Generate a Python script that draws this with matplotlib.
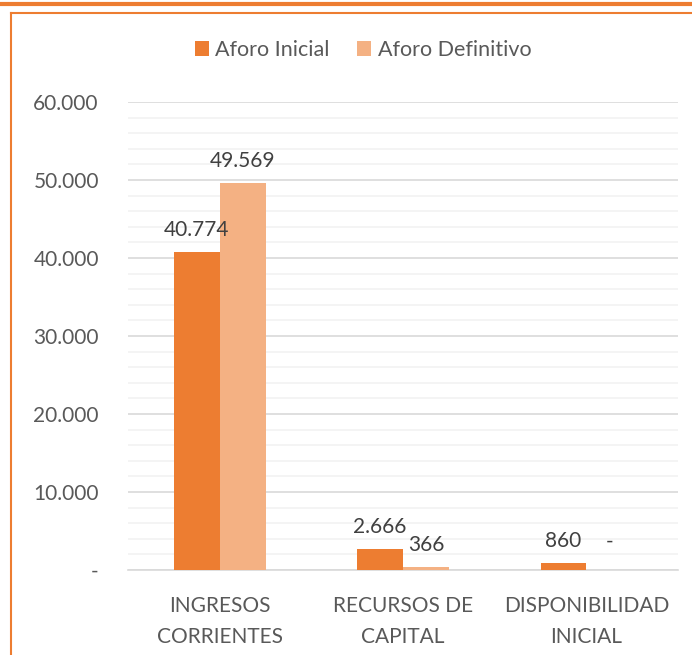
import matplotlib.pyplot as plt
from matplotlib.lines import Line2D
import numpy as np

# datos del gráfico
categorias = ['INGRESOS\nCORRIENTES', 'RECURSOS DE\nCAPITAL', 'DISPONIBILIDAD\nINICIAL']
aforo_inicial = [40774, 2666, 860]
aforo_definitivo = [49569, 366, 0]
etiquetas_y = ['-', '10.000', '20.000', '30.000', '40.000', '50.000', '60.000']
valores_y = [0, 10000, 20000, 30000, 40000, 50000, 60000]

naranja = '#ED7D31'
naranja_claro = '#F4B183'
gris = '#595959'

plt.rcParams['font.family'] = ['Lato', 'DejaVu Sans']

W, H = 692, 655
fig = plt.figure(figsize=(W / 100, H / 100), dpi=100)

# marco naranja
fig.add_artist(Line2D([0, 1], [1 - 4 / H, 1 - 4 / H], color=naranja, lw=3, transform=fig.transFigure))
fig.add_artist(Line2D([10.5 / W, 1], [1 - 13 / H, 1 - 13 / H], color=naranja, lw=1.5, transform=fig.transFigure))
fig.add_artist(Line2D([10.5 / W, 10.5 / W], [0, 1 - 13 / H], color=naranja, lw=1.5, transform=fig.transFigure))

ax = fig.add_axes([128 / W, (H - 570) / H, 550 / W, 468 / H])

x = np.arange(len(categorias))
ancho = 0.25
b1 = ax.bar(x - ancho / 2, aforo_inicial, ancho, color=naranja, label='Aforo Inicial', zorder=3)
b2 = ax.bar(x + ancho / 2, aforo_definitivo, ancho, color=naranja_claro, label='Aforo Definitivo', zorder=3)

def fmt(v):
    return '-' if v == 0 else f'{v:,}'.replace(',', '.')

for barras in (b1, b2):
    for b in barras:
        v = b.get_height()
        ax.annotate(fmt(v), (b.get_x() + b.get_width() / 2, v), xytext=(0, 12 if v > 0 else 18),
                    textcoords='offset pixels', ha='center', va='bottom', fontsize=15, color='#404040')

ax.set_xlim(-0.5, 2.5)
ax.set_ylim(0, 60000)
ax.set_yticks(valores_y)
ax.set_yticklabels(etiquetas_y)
ax.set_yticks(np.arange(0, 60001, 2000), minor=True)
ax.grid(axis='y', which='major', color='#D9D9D9', lw=1.2, zorder=0)
ax.grid(axis='y', which='minor', color='#F2F2F2', lw=1.2, zorder=0)
ax.set_xticks(x)
ax.set_xticklabels(categorias, linespacing=1.68)
ax.tick_params(axis='both', which='both', length=0, labelsize=15, labelcolor=gris)
ax.tick_params(axis='y', pad=21)
ax.tick_params(axis='x', pad=19)
for s in ['top', 'right', 'left']:
    ax.spines[s].set_visible(False)
ax.spines['bottom'].set_color('#D9D9D9')
ax.spines['bottom'].set_linewidth(1.2)

fig.legend(loc='center', bbox_to_anchor=(363 / W, 1 - 50 / H), ncol=2, frameon=False,
           fontsize=15.5, labelcolor=gris, handlelength=0.65, handleheight=0.65,
           handletextpad=0.3, columnspacing=1.3)

fig.savefig('out.png', dpi=100, facecolor='white')
